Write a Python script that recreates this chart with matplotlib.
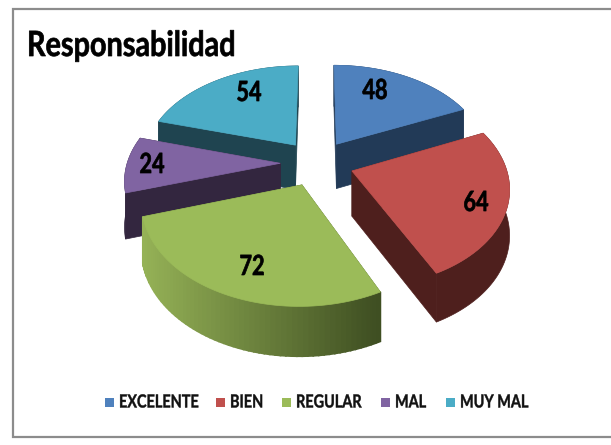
import numpy as np
import matplotlib
matplotlib.use('Agg')
import matplotlib.pyplot as plt
from matplotlib.patches import Polygon, Rectangle
from matplotlib.patheffects import AbstractPathEffect
from matplotlib.transforms import Affine2D

title = 'Responsabilidad'
categories = ['EXCELENTE', 'BIEN', 'REGULAR', 'MAL', 'MUY MAL']
values = [48, 64, 72, 24, 54]
colors = ['#4F81BD', '#C0504D', '#9BBB59', '#8064A2', '#4BACC6']
side_colors = ['#223A57', '#4E1F1D', '#4E6030', '#33263F', '#1F4450']

# fake 3d projection, numbers fitted by eye
cx, cy = 317, 163
A, B = 153, 96
persp = 0.15
explode = 0.24
depth = 45
label_font = ['Lato', 'DejaVu Sans']


class Condense(AbstractPathEffect):
    # squeeze text sideways, the reference font is narrower than Lato
    def __init__(self, x0, sx, stroke=0.5):
        super().__init__()
        self.x0 = x0
        self.sx = sx
        self.stroke = stroke

    def draw_path(self, renderer, gc, tpath, affine, rgbFace=None):
        squeeze = Affine2D().translate(-self.x0, 0).scale(self.sx, 1).translate(self.x0, 0)
        gc0 = renderer.new_gc()
        gc0.copy_properties(gc)
        gc0.set_linewidth(self.stroke)
        gc0.set_foreground(rgbFace)
        renderer.draw_path(gc0, tpath, affine + squeeze, rgbFace)
        gc0.restore()


def project(u, v, down=0.0):
    s = 1.0 / (1.0 + persp * v)
    return cx + A * u * s, cy - B * v * s + down * depth / (1.0 + 0.08 * v)


def outline(a0, a1, n=60):
    mid = (a0 + a1) / 2
    ou, ov = explode * np.sin(mid), explode * np.cos(mid)
    angs = np.linspace(a0, a1, n)
    return ou, ov, ou + np.sin(angs), ov + np.cos(angs)


def draw_slice(ax, a0, a1, col, side, gradient=False):
    ou, ov, us, vs = outline(a0, a1)
    # radial walls
    for eu, ev in ((us[0], vs[0]), (us[-1], vs[-1])):
        pts = [project(ou, ov), project(eu, ev), project(eu, ev, 1), project(ou, ov, 1)]
        ax.add_patch(Polygon(pts, closed=True, fc=side, ec=side, lw=0.5))
    # outer wall
    if gradient:
        c0 = np.array(matplotlib.colors.to_rgb('#96B357'))
        c1 = np.array(matplotlib.colors.to_rgb('#3F4F22'))
        for i in range(len(us) - 1):
            pts = [project(us[i], vs[i]), project(us[i + 1], vs[i + 1]),
                   project(us[i + 1], vs[i + 1], 1), project(us[i], vs[i], 1)]
            t = np.clip((pts[0][0] - 141) / (378 - 141), 0, 1)
            c = tuple(c0 + (c1 - c0) * t)
            ax.add_patch(Polygon(pts, closed=True, fc=c, ec=c, lw=1.2))
    else:
        upper = [project(u, v) for u, v in zip(us, vs)]
        lower = [project(u, v, 1) for u, v in zip(us, vs)]
        ax.add_patch(Polygon(upper + lower[::-1], closed=True, fc=side, ec=side, lw=0.5))
    # top
    top = [project(ou, ov)] + [project(u, v) for u, v in zip(us, vs)]
    ax.add_patch(Polygon(top, closed=True, fc=col, ec=col, lw=0.5))


fig = plt.figure(figsize=(6.11, 4.45), dpi=100)
ax = fig.add_axes([0, 0, 1, 1])
ax.set_xlim(0, 611)
ax.set_ylim(445, 0)
ax.axis('off')

ax.add_patch(Rectangle((13, 9), 620, 428, fc='white', ec='#8C8C8C', lw=1.6))

total = sum(values)
edges = np.concatenate([[0], np.cumsum(values)]) / total * 2 * np.pi
# back slices first
for i in [0, 4, 3, 1, 2]:
    draw_slice(ax, edges[i], edges[i + 1], colors[i], side_colors[i], gradient=(i == 2))

label_x = [375, 476, 252, 152, 249]
label_y = [91, 203, 267, 165, 93]
for v, x, y in zip(values, label_x, label_y):
    ax.text(x, y, str(v), ha='center', va='center', fontsize=20, fontweight='bold',
            family=label_font, color='black', path_effects=[Condense(x, 0.78)])

ax.text(27, 46, title, ha='left', va='center', fontsize=25, fontweight='bold',
        family=label_font, color='black', path_effects=[Condense(27, 0.83)])

# legend laid out by hand so it can follow the squeezed text
box_x = [105, 216, 282, 381, 446]
text_x = [119, 230, 296, 395, 460]
for c, name, bx, tx in zip(colors, categories, box_x, text_x):
    ax.add_patch(Rectangle((bx, 397.5), 9, 9, fc=c, ec='none'))
    ax.text(tx, 402, name, ha='left', va='center', fontsize=13, fontweight='bold',
            family=label_font, color='#111111', path_effects=[Condense(tx, 0.80, 0.3)])

fig.savefig('out.png', dpi=100)
